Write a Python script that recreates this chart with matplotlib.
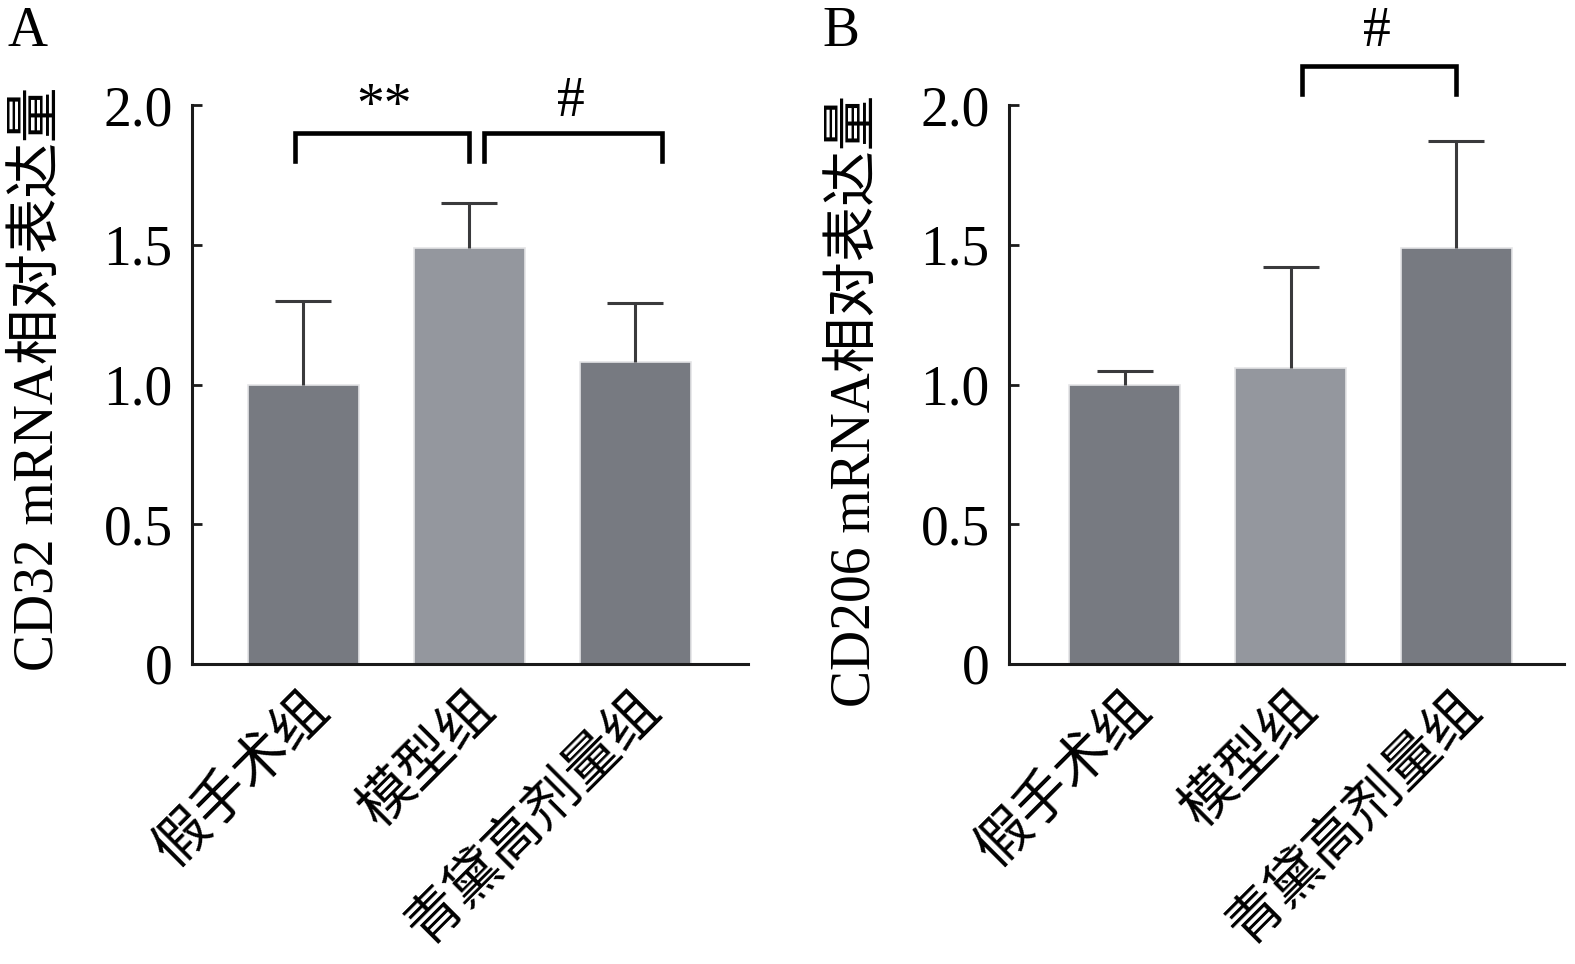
import matplotlib
matplotlib.use("Agg")
import matplotlib.pyplot as plt

plt.rcParams['font.family'] = ['Liberation Serif', 'Noto Sans CJK SC']
plt.rcParams['font.size'] = 40

groups = ["假手术组", "模型组", "青黛高剂量组"]
cd32_mean = [1.00, 1.49, 1.08]
cd32_err = [0.30, 0.16, 0.21]
cd206_mean = [1.00, 1.06, 1.49]
cd206_err = [0.05, 0.36, 0.38]
yticks = [0, 0.5, 1.0, 1.5, 2.0]
ytick_labels = ["0", "0.5", "1.0", "1.5", "2.0"]

dark = "#777a81"
light = "#94979e"
bar_colors = [dark, light, dark]


def draw_panel(ax, means, errs, ylabel, label_x, label_y, xleft):
    x = range(len(means))
    ax.bar(x, means, width=0.67, color=bar_colors, edgecolor="#e4e4e6",
           linewidth=1.2, zorder=2)
    eb = ax.errorbar(x, means, yerr=[[0] * len(errs), errs], fmt="none",
                     ecolor="#3a3a3c", elinewidth=2.2, capsize=20,
                     capthick=2.2, zorder=3)
    # hide the lower caps, only the upper half of each bar is shown
    eb[1][0].set_visible(False)
    ax.set_xlim(xleft, xleft + 3.35)
    ax.set_ylim(0, 2.0)
    ax.set_yticks(yticks)
    ax.set_yticklabels(ytick_labels)
    ax.set_xticks(list(x))
    ax.set_xticklabels(groups, rotation=45, ha="right", va="top",
                       rotation_mode="anchor")
    for s in ["top", "right"]:
        ax.spines[s].set_visible(False)
    for s in ["left", "bottom"]:
        ax.spines[s].set_linewidth(2.2)
        ax.spines[s].set_color("#1a1a1a")
    ax.tick_params(axis="both", direction="in", length=7, width=2,
                   color="#1a1a1a", labelsize=40)
    ax.tick_params(axis="y", pad=14)
    ax.tick_params(axis="x", pad=14)
    ax.set_ylabel(ylabel, fontsize=40)
    ax.yaxis.set_label_coords(label_x, label_y)


def bracket(ax, x0, x1, y_top, y_bot, text, tx, ty):
    ax.plot([x0, x0, x1, x1], [y_bot, y_top, y_top, y_bot], color="black",
            lw=3.3, solid_joinstyle="miter", clip_on=False, zorder=4)
    ax.text(tx, ty, text, ha="center", va="baseline", fontsize=40,
            clip_on=False)


fig = plt.figure(figsize=(15.75, 9.64), dpi=100)
ax1 = fig.add_axes([192 / 1575, 1 - 664 / 964, 556 / 1575, 559 / 964])
ax2 = fig.add_axes([1009 / 1575, 1 - 664 / 964, 555 / 1575, 559 / 964])

draw_panel(ax1, cd32_mean, cd32_err, "CD32 mRNA相对表达量", -0.23, 0.51, -0.67)
draw_panel(ax2, cd206_mean, cd206_err, "CD206 mRNA相对表达量", -0.23, 0.47, -0.70)

bracket(ax1, -0.05, 1.0, 1.90, 1.80, "**", 0.49, 1.94)
bracket(ax1, 1.09, 2.16, 1.90, 1.80, "#", 1.61, 1.96)
bracket(ax2, 1.07, 2.0, 2.14, 2.04, "#", 1.52, 2.21)

fig.text(8 / 1575, 1 - 46 / 964, "A", fontsize=40, va="baseline")
fig.text(822 / 1575, 1 - 46 / 964, "B", fontsize=40, va="baseline")

fig.savefig("out.png", dpi=100)
